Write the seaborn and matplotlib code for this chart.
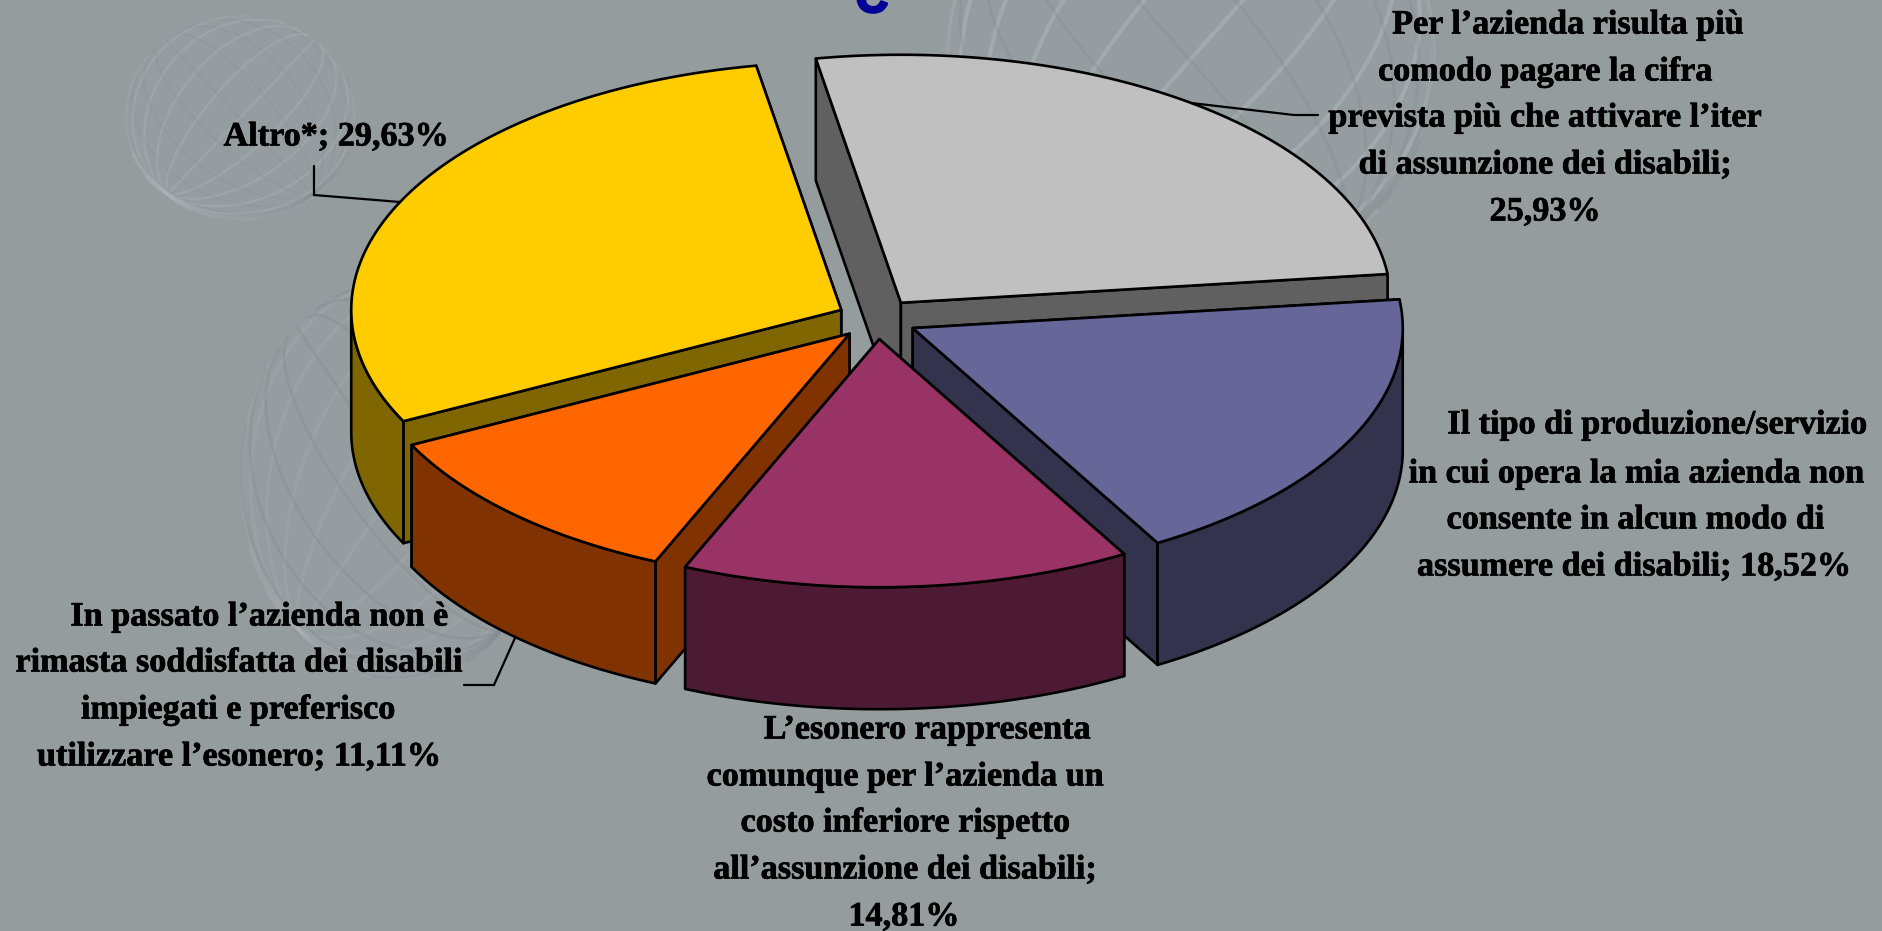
import numpy as np
import seaborn as sns
import matplotlib.pyplot as plt
import matplotlib.patheffects as pe
from matplotlib.patches import Polygon, Ellipse

# Slices, clockwise from the grey one
values = [25.93, 18.52, 14.81, 11.11, 29.63]
top_colors = ['#C0C0C0', '#666699', '#993366', '#FF6600', '#FFCC00']
wall_colors = ['#606060', '#33334D', '#4D1A33', '#803300', '#806600']

label_grey = ['Per l’azienda risulta più', 'comodo pagare la cifra', 'prevista più che attivare l’iter',
              'di assunzione dei disabili;', '25,93%']
label_blue = ['Il tipo di produzione/servizio', 'in cui opera la mia azienda non',
              'consente in alcun modo di', 'assumere dei disabili; 18,52%']
label_magenta = ['L’esonero rappresenta', 'comunque per l’azienda un', 'costo inferiore rispetto',
                 'all’assunzione dei disabili;', '14,81%']
label_orange = ['In passato l’azienda non è', 'rimasta soddisfatta dei disabili',
                'impiegati e preferisco', 'utilizzare l’esonero; 11,11%']
label_yellow = ['Altro*; 29,63%']

BG = '#949C9E'
CX, CY = 877, 319     # pie centre
RX, RY = 490, 248     # top ellipse
DEPTH = 122
EXPLODE = 40
START = -10.0         # degrees clockwise from 12 o'clock

sns.set_theme(style='white')
plt.rcParams['font.family'] = ['Liberation Serif', 'DejaVu Serif']

fig = plt.figure(figsize=(18.83, 9.31), dpi=100, facecolor=BG)
ax = fig.add_axes([0, 0, 1, 1])
ax.set_xlim(0, 1883)
ax.set_ylim(931, 0)
ax.set_facecolor(BG)
ax.axis('off')


def globe(cx, cy, rx, ry, spin, tilt, color, alpha, lw):
    # faint wireframe ball from the slide background, front half only
    s = np.linspace(0, 2 * np.pi, 120)
    ct, st = np.cos(tilt), np.sin(tilt)
    cs, ss = np.cos(spin), np.sin(spin)
    for k in range(10):
        a = k * np.pi / 10
        x, y, z = np.cos(s) * np.cos(a), np.sin(s), np.cos(s) * np.sin(a)
        y, z = y * ct - z * st, y * st + z * ct
        x, y = x * cs - y * ss, x * ss + y * cs
        ax.plot(cx + rx * x, cy + ry * np.ma.masked_where(z < 0, y),
                color=color, alpha=alpha, lw=lw, zorder=1)


for cx, cy, rx, ry, light, dark, w in [(240, 118, 115, 102, 0.3, 0.18, 1.8),
                                       (1190, 60, 245, 232, 0.5, 0.28, 3.0),
                                       (400, 480, 160, 200, 0.2, 0.35, 2.4)]:
    ax.add_patch(Ellipse((cx, cy), 2 * rx, 2 * ry, facecolor='#9CA4AE', alpha=0.18, edgecolor='none', zorder=1))
    globe(cx, cy, rx, ry, 0.7, 0.2, '#B0B8BE', light, w)
    globe(cx, cy, rx, ry, -0.7, 0.2, '#858B90', dark, w * 0.8)

# Title is cut off by the top of the slide, only its tail shows
ax.text(872, 12, 'C', color='#000099', fontsize=32, fontweight='bold', family='Liberation Sans',
        ha='center', va='baseline', zorder=2,
        path_effects=[pe.withStroke(linewidth=2, foreground='#000099')])


def rim(a, b, ox, oy):
    t = np.radians(np.linspace(a, b, 160))
    return np.column_stack([ox + RX * np.sin(t), oy - RY * np.cos(t)])


edges = START + np.concatenate([[0], np.cumsum(values)]) * 3.6
slices = {}
for i in range(len(values)):
    a, b = edges[i], edges[i + 1]
    mid = np.radians((a + b) / 2)
    ox = CX + EXPLODE * np.sin(mid)
    oy = CY - EXPLODE * RY / RX * np.cos(mid)
    slices[i] = (a, b, ox, oy)

# painter's order, back to front: grey, yellow, blue, orange, magenta
for i in [0, 4, 1, 3, 2]:
    a, b, ox, oy = slices[i]
    style = dict(edgecolor='black', linewidth=1.9, joinstyle='round', zorder=3)
    apex = np.array([ox, oy])
    drop = np.array([0, DEPTH])
    # back radial wall first so it never pokes over the front one
    for e in sorted((a, b), key=lambda d: -np.cos(np.radians(d))):
        p = rim(e, e, ox, oy)[0]
        ax.add_patch(Polygon([apex, p, p + drop, apex + drop], facecolor=wall_colors[i], **style))
    lo, hi = max(a, 90), min(b, 270)
    if hi > lo:
        arc = rim(lo, hi, ox, oy)
        ax.add_patch(Polygon(np.vstack([arc, arc[::-1] + drop]), facecolor=wall_colors[i], **style))
    ax.add_patch(Polygon(np.vstack([apex, rim(a, b, ox, oy)]), facecolor=top_colors[i], **style))

# Leader lines
leaders = [
    ([314, 314, 400], [166, 195, 202]),
    ([1191, 1294, 1318], [103, 115, 115]),
    ([464, 494, 515], [685, 685, 638]),
]
for xs, ys in leaders:
    ax.plot(xs, ys, color='black', lw=1.6, zorder=4, solid_joinstyle='miter')

# Labels, one text per line because the first lines sit off-centre in the original
label_layout = [
    (label_grey, [1568, 1545, 1545, 1545, 1545], [25, 72, 118, 165, 212]),
    (label_blue, [1657, 1636, 1635, 1634], [425, 474, 520, 567]),
    (label_magenta, [927, 905, 905, 905, 904], [730, 777, 823, 870, 917]),
    (label_orange, [259, 239, 238, 239], [617, 663, 710, 757]),
    (label_yellow, [336], [137]),
]
for lines, xs, ys in label_layout:
    for line, x, y in zip(lines, xs, ys):
        ax.text(x, y, line, fontsize=24.6, fontweight='bold', color='black', ha='center', va='center',
                zorder=5, path_effects=[pe.withStroke(linewidth=0.5, foreground='black')])

fig.savefig('out.png', dpi=100, facecolor=BG)
